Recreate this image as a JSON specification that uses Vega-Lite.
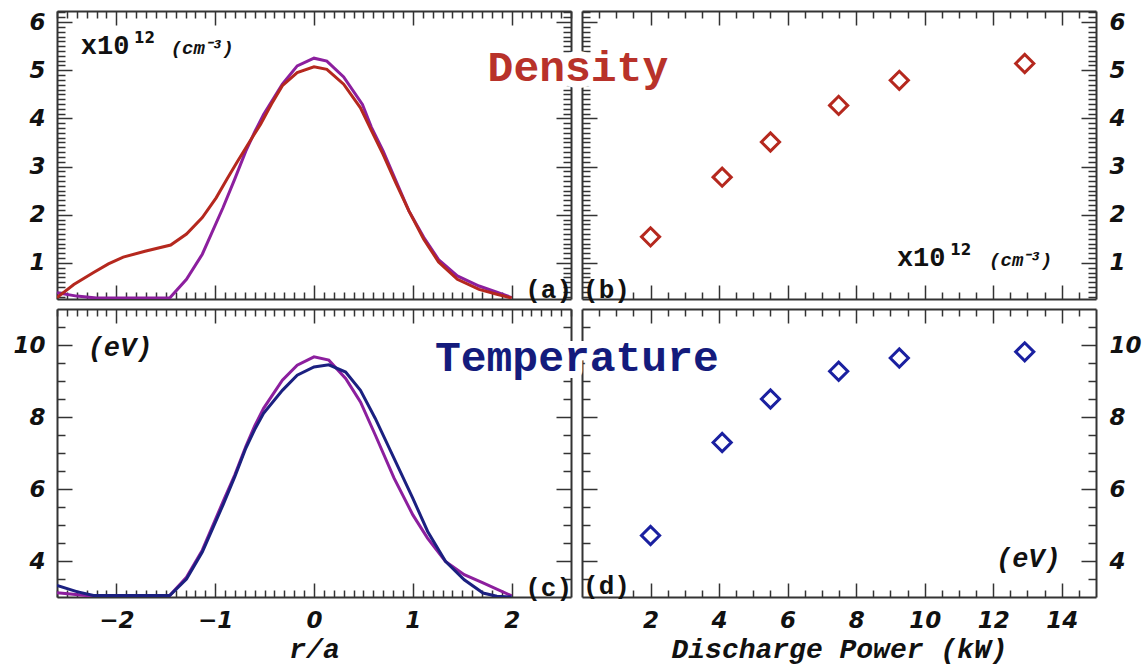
{
  "$schema": "https://vega.github.io/schema/vega-lite/v6.json",
  "background": "white",
  "padding": {"left": 12, "top": 1, "right": 0, "bottom": 6},
  "datasets": {
    "profiles": [
      {"panel": "a", "series": "A", "r": -2.6, "value": 0.38},
      {"panel": "a", "series": "A", "r": -2.4, "value": 0.31},
      {"panel": "a", "series": "A", "r": -2.2, "value": 0.27},
      {"panel": "a", "series": "A", "r": -1.46, "value": 0.27},
      {"panel": "a", "series": "A", "r": -1.29, "value": 0.66},
      {"panel": "a", "series": "A", "r": -1.13, "value": 1.18},
      {"panel": "a", "series": "A", "r": -0.92, "value": 2.15},
      {"panel": "a", "series": "A", "r": -0.8, "value": 2.75},
      {"panel": "a", "series": "A", "r": -0.69, "value": 3.32},
      {"panel": "a", "series": "A", "r": -0.6, "value": 3.72},
      {"panel": "a", "series": "A", "r": -0.51, "value": 4.08},
      {"panel": "a", "series": "A", "r": -0.32, "value": 4.71},
      {"panel": "a", "series": "A", "r": -0.17, "value": 5.09},
      {"panel": "a", "series": "A", "r": 0, "value": 5.25},
      {"panel": "a", "series": "A", "r": 0.13, "value": 5.19},
      {"panel": "a", "series": "A", "r": 0.3, "value": 4.86},
      {"panel": "a", "series": "A", "r": 0.49, "value": 4.29},
      {"panel": "a", "series": "A", "r": 0.58, "value": 3.82},
      {"panel": "a", "series": "A", "r": 0.7, "value": 3.32},
      {"panel": "a", "series": "A", "r": 0.83, "value": 2.7},
      {"panel": "a", "series": "A", "r": 0.96, "value": 2.08},
      {"panel": "a", "series": "A", "r": 1.11, "value": 1.53},
      {"panel": "a", "series": "A", "r": 1.26, "value": 1.07},
      {"panel": "a", "series": "A", "r": 1.45, "value": 0.73},
      {"panel": "a", "series": "A", "r": 1.67, "value": 0.52},
      {"panel": "a", "series": "A", "r": 1.85, "value": 0.39},
      {"panel": "a", "series": "A", "r": 2.0, "value": 0.28},
      {"panel": "a", "series": "B", "r": -2.6, "value": 0.28},
      {"panel": "a", "series": "B", "r": -2.43, "value": 0.55},
      {"panel": "a", "series": "B", "r": -2.23, "value": 0.8},
      {"panel": "a", "series": "B", "r": -2.08, "value": 0.98},
      {"panel": "a", "series": "B", "r": -1.93, "value": 1.12},
      {"panel": "a", "series": "B", "r": -1.71, "value": 1.24},
      {"panel": "a", "series": "B", "r": -1.45, "value": 1.37},
      {"panel": "a", "series": "B", "r": -1.29, "value": 1.6},
      {"panel": "a", "series": "B", "r": -1.13, "value": 1.94},
      {"panel": "a", "series": "B", "r": -0.99, "value": 2.35},
      {"panel": "a", "series": "B", "r": -0.88, "value": 2.74},
      {"panel": "a", "series": "B", "r": -0.77, "value": 3.12},
      {"panel": "a", "series": "B", "r": -0.65, "value": 3.52},
      {"panel": "a", "series": "B", "r": -0.54, "value": 3.88},
      {"panel": "a", "series": "B", "r": -0.43, "value": 4.3},
      {"panel": "a", "series": "B", "r": -0.32, "value": 4.68},
      {"panel": "a", "series": "B", "r": -0.17, "value": 4.95},
      {"panel": "a", "series": "B", "r": 0, "value": 5.07},
      {"panel": "a", "series": "B", "r": 0.13, "value": 5.02},
      {"panel": "a", "series": "B", "r": 0.3, "value": 4.71},
      {"panel": "a", "series": "B", "r": 0.47, "value": 4.22},
      {"panel": "a", "series": "B", "r": 0.58, "value": 3.75},
      {"panel": "a", "series": "B", "r": 0.7, "value": 3.25},
      {"panel": "a", "series": "B", "r": 0.83, "value": 2.65},
      {"panel": "a", "series": "B", "r": 0.96, "value": 2.08},
      {"panel": "a", "series": "B", "r": 1.11, "value": 1.49},
      {"panel": "a", "series": "B", "r": 1.26, "value": 1.02},
      {"panel": "a", "series": "B", "r": 1.45, "value": 0.66},
      {"panel": "a", "series": "B", "r": 1.67, "value": 0.45},
      {"panel": "a", "series": "B", "r": 1.85, "value": 0.35},
      {"panel": "a", "series": "B", "r": 2.0, "value": 0.27},
      {"panel": "c", "series": "A", "r": -2.6, "value": 3.12},
      {"panel": "c", "series": "A", "r": -2.3, "value": 3.04},
      {"panel": "c", "series": "A", "r": -1.46, "value": 3.04},
      {"panel": "c", "series": "A", "r": -1.29, "value": 3.55},
      {"panel": "c", "series": "A", "r": -1.13, "value": 4.3},
      {"panel": "c", "series": "A", "r": -0.92, "value": 5.65},
      {"panel": "c", "series": "A", "r": -0.8, "value": 6.4},
      {"panel": "c", "series": "A", "r": -0.69, "value": 7.18},
      {"panel": "c", "series": "A", "r": -0.6, "value": 7.75},
      {"panel": "c", "series": "A", "r": -0.51, "value": 8.24},
      {"panel": "c", "series": "A", "r": -0.32, "value": 9.02},
      {"panel": "c", "series": "A", "r": -0.17, "value": 9.44},
      {"panel": "c", "series": "A", "r": 0, "value": 9.67},
      {"panel": "c", "series": "A", "r": 0.15, "value": 9.58},
      {"panel": "c", "series": "A", "r": 0.32, "value": 9.07},
      {"panel": "c", "series": "A", "r": 0.47, "value": 8.42},
      {"panel": "c", "series": "A", "r": 0.62, "value": 7.5},
      {"panel": "c", "series": "A", "r": 0.81, "value": 6.3},
      {"panel": "c", "series": "A", "r": 1.0, "value": 5.28},
      {"panel": "c", "series": "A", "r": 1.15, "value": 4.63},
      {"panel": "c", "series": "A", "r": 1.33, "value": 3.99},
      {"panel": "c", "series": "A", "r": 1.52, "value": 3.62},
      {"panel": "c", "series": "A", "r": 1.71, "value": 3.39},
      {"panel": "c", "series": "A", "r": 2.0, "value": 3.03},
      {"panel": "c", "series": "B", "r": -2.6, "value": 3.32},
      {"panel": "c", "series": "B", "r": -2.4, "value": 3.15},
      {"panel": "c", "series": "B", "r": -2.23, "value": 3.04},
      {"panel": "c", "series": "B", "r": -1.46, "value": 3.04},
      {"panel": "c", "series": "B", "r": -1.29, "value": 3.5},
      {"panel": "c", "series": "B", "r": -1.13, "value": 4.25},
      {"panel": "c", "series": "B", "r": -0.92, "value": 5.56},
      {"panel": "c", "series": "B", "r": -0.8, "value": 6.35},
      {"panel": "c", "series": "B", "r": -0.69, "value": 7.13},
      {"panel": "c", "series": "B", "r": -0.6, "value": 7.65},
      {"panel": "c", "series": "B", "r": -0.51, "value": 8.1},
      {"panel": "c", "series": "B", "r": -0.32, "value": 8.74},
      {"panel": "c", "series": "B", "r": -0.17, "value": 9.16},
      {"panel": "c", "series": "B", "r": 0, "value": 9.39},
      {"panel": "c", "series": "B", "r": 0.15, "value": 9.45},
      {"panel": "c", "series": "B", "r": 0.32, "value": 9.25},
      {"panel": "c", "series": "B", "r": 0.47, "value": 8.74},
      {"panel": "c", "series": "B", "r": 0.62, "value": 7.96},
      {"panel": "c", "series": "B", "r": 0.81, "value": 6.85},
      {"panel": "c", "series": "B", "r": 1.0, "value": 5.74},
      {"panel": "c", "series": "B", "r": 1.15, "value": 4.82},
      {"panel": "c", "series": "B", "r": 1.33, "value": 3.99},
      {"panel": "c", "series": "B", "r": 1.52, "value": 3.48},
      {"panel": "c", "series": "B", "r": 1.71, "value": 3.11},
      {"panel": "c", "series": "B", "r": 1.85, "value": 3.02},
      {"panel": "c", "series": "B", "r": 2.0, "value": 3.0}
    ],
    "scans": [
      {"panel": "b", "power": 2.0, "value": 1.54},
      {"panel": "b", "power": 4.09, "value": 2.78},
      {"panel": "b", "power": 5.5, "value": 3.51},
      {"panel": "b", "power": 7.49, "value": 4.27},
      {"panel": "b", "power": 9.26, "value": 4.79},
      {"panel": "b", "power": 12.92, "value": 5.14},
      {"panel": "d", "power": 2.0, "value": 4.71},
      {"panel": "d", "power": 4.09, "value": 7.29},
      {"panel": "d", "power": 5.5, "value": 8.5},
      {"panel": "d", "power": 7.49, "value": 9.27},
      {"panel": "d", "power": 9.26, "value": 9.64},
      {"panel": "d", "power": 12.92, "value": 9.81}
    ]
  },
  "columns": 2,
  "spacing": {"row": 10, "column": 11},
  "bounds": "flush",
  "resolve": {"scale": {"color": "independent"}},
  "concat": [
    {
      "width": 514,
      "height": 288,
      "resolve": {"axis": {"x": "independent", "y": "independent"}},
      "layer": [
        {
          "data": {"name": "profiles"},
          "transform": [{"filter": "datum.panel === 'a'"}],
          "mark": {"type": "line", "strokeWidth": 3, "clip": true},
          "encoding": {
            "x": {"field": "r", "type": "quantitative", "scale": {"domain": [-2.6, 2.6], "nice": false, "zero": false},
              "axis": {"orient": "bottom", "title": null, "labels": false,
                "values": [-2.6,-2.5,-2.4,-2.3,-2.2,-2.1,-2,-1.9,-1.8,-1.7,-1.6,-1.5,-1.4,-1.3,-1.2,-1.1,-1,-0.9,-0.8,-0.7,-0.6,-0.5,-0.4,-0.3,-0.2,-0.1,0,0.1,0.2,0.3,0.4,0.5,0.6,0.7,0.8,0.9,1,1.1,1.2,1.3,1.4,1.5,1.6,1.7,1.8,1.9,2],
                "tickSize": {"condition": {"test": "datum.value % 1 === 0", "value": -14}, "value": -7}}},
            "y": {"field": "value", "type": "quantitative", "scale": {"domain": [0.25, 6.23], "nice": false, "zero": false},
              "axis": {"orient": "left", "title": null, "labelPadding": 27,
                "values": [0.3,0.4,0.5,0.6,0.7,0.8,0.9,1,1.1,1.2,1.3,1.4,1.5,1.6,1.7,1.8,1.9,2,2.1,2.2,2.3,2.4,2.5,2.6,2.7,2.8,2.9,3,3.1,3.2,3.3,3.4,3.5,3.6,3.7,3.8,3.9,4,4.1,4.2,4.3,4.4,4.5,4.6,4.7,4.8,4.9,5,5.1,5.2,5.3,5.4,5.5,5.6,5.7,5.8,5.9,6,6.1,6.2],
                "labelExpr": "datum.value % 1 === 0 ? format(datum.value, 'd') : ''",
                "tickSize": {"condition": {"test": "datum.value % 1 === 0", "value": -15}, "value": -8}}},
            "color": {"field": "series", "type": "nominal", "scale": {"domain": ["A", "B"], "range": ["#8c1f9e", "#b5281e"]}, "legend": null}
          }
        },
        {
          "data": {"values": [{}]},
          "mark": {"type": "text", "text": "x10", "font": "Liberation Mono", "fontSize": 27, "fontWeight": "bold", "align": "left", "baseline": "alphabetic", "color": "#111111"},
          "encoding": {
            "x": {"datum": -2.36, "type": "quantitative", "scale": {"domain": [-2.6, 2.6], "nice": false, "zero": false},
              "axis": {"orient": "top", "title": null, "labels": false,
                "values": [-2.6,-2.5,-2.4,-2.3,-2.2,-2.1,-2,-1.9,-1.8,-1.7,-1.6,-1.5,-1.4,-1.3,-1.2,-1.1,-1,-0.9,-0.8,-0.7,-0.6,-0.5,-0.4,-0.3,-0.2,-0.1,0,0.1,0.2,0.3,0.4,0.5,0.6,0.7,0.8,0.9,1,1.1,1.2,1.3,1.4,1.5,1.6,1.7,1.8,1.9,2,2.1,2.2,2.3,2.4,2.5,2.6],
                "tickSize": {"condition": {"test": "datum.value % 1 === 0", "value": -14}, "value": -7}}},
            "y": {"datum": 5.34, "type": "quantitative", "scale": {"domain": [0.25, 6.23], "nice": false, "zero": false},
              "axis": {"orient": "right", "title": null, "labels": false,
                "values": [0.3,0.4,0.5,0.6,0.7,0.8,0.9,1,1.1,1.2,1.3,1.4,1.5,1.6,1.7,1.8,1.9,2,2.1,2.2,2.3,2.4,2.5,2.6,2.7,2.8,2.9,3,3.1,3.2,3.3,3.4,3.5,3.6,3.7,3.8,3.9,4,4.1,4.2,4.3,4.4,4.5,4.6,4.7,4.8,4.9,5,5.1,5.2,5.3,5.4,5.5,5.6,5.7,5.8,5.9,6,6.1,6.2],
                "tickSize": {"condition": {"test": "datum.value % 1 === 0", "value": -15}, "value": -8}}}
          }
        },
        {
          "data": {"values": [{}]},
          "mark": {"type": "text", "text": "12", "font": "DejaVu Sans", "fontSize": 15, "fontWeight": "bold", "align": "left", "baseline": "alphabetic", "color": "#111111"},
          "encoding": {
            "x": {"datum": -1.82, "type": "quantitative", "scale": {"domain": [-2.6, 2.6], "nice": false, "zero": false}, "axis": null},
            "y": {"datum": 5.57, "type": "quantitative", "scale": {"domain": [0.25, 6.23], "nice": false, "zero": false}, "axis": null}
          }
        },
        {
          "data": {"values": [{}]},
          "mark": {"type": "text", "text": "(cm⁻³)", "font": "Liberation Mono", "fontSize": 19, "fontWeight": "bold", "fontStyle": "italic", "align": "left", "baseline": "alphabetic", "color": "#111111"},
          "encoding": {
            "x": {"datum": -1.45, "type": "quantitative", "scale": {"domain": [-2.6, 2.6], "nice": false, "zero": false}, "axis": null},
            "y": {"datum": 5.34, "type": "quantitative", "scale": {"domain": [0.25, 6.23], "nice": false, "zero": false}, "axis": null}
          }
        },
        {
          "data": {"values": [{}]},
          "mark": {"type": "text", "text": "(a)", "font": "Liberation Mono", "fontSize": 26, "fontWeight": "bold", "align": "right", "baseline": "middle", "color": "#111111"},
          "encoding": {
            "x": {"datum": 2.61, "type": "quantitative", "scale": {"domain": [-2.6, 2.6], "nice": false, "zero": false}, "axis": null},
            "y": {"datum": 0.44, "type": "quantitative", "scale": {"domain": [0.25, 6.23], "nice": false, "zero": false}, "axis": null}
          }
        }
      ]
    },
    {
      "width": 514,
      "height": 288,
      "resolve": {"axis": {"x": "independent", "y": "independent"}},
      "layer": [
        {
          "data": {"name": "scans"},
          "transform": [{"filter": "datum.panel === 'b'"}],
          "mark": {"type": "point", "shape": "diamond", "filled": false, "size": 330, "strokeWidth": 3, "color": "#b5281e", "opacity": 1},
          "encoding": {
            "x": {"field": "power", "type": "quantitative", "scale": {"domain": [0, 15], "nice": false, "zero": false},
              "axis": {"orient": "bottom", "title": null, "labels": false,
                "values": [1.5,2,2.5,3,3.5,4,4.5,5,5.5,6,6.5,7,7.5,8,8.5,9,9.5,10,10.5,11,11.5,12,12.5,13,13.5,14,14.5],
                "tickSize": {"condition": {"test": "datum.value % 2 === 0", "value": -14}, "value": -7}}},
            "y": {"field": "value", "type": "quantitative", "scale": {"domain": [0.25, 6.23], "nice": false, "zero": false},
              "axis": {"orient": "left", "title": null, "labels": false,
                "values": [0.3,0.4,0.5,0.6,0.7,0.8,0.9,1,1.1,1.2,1.3,1.4,1.5,1.6,1.7,1.8,1.9,2,2.1,2.2,2.3,2.4,2.5,2.6,2.7,2.8,2.9,3,3.1,3.2,3.3,3.4,3.5,3.6,3.7,3.8,3.9,4,4.1,4.2,4.3,4.4,4.5,4.6,4.7,4.8,4.9,5,5.1,5.2,5.3,5.4,5.5,5.6,5.7,5.8,5.9,6,6.1,6.2],
                "tickSize": {"condition": {"test": "datum.value % 1 === 0", "value": -15}, "value": -8}}}
          }
        },
        {
          "data": {"values": [{}]},
          "mark": {"type": "text", "text": "x10", "font": "Liberation Mono", "fontSize": 27, "fontWeight": "bold", "align": "left", "baseline": "alphabetic", "color": "#111111"},
          "encoding": {
            "x": {"datum": 9.19, "type": "quantitative", "scale": {"domain": [0, 15], "nice": false, "zero": false},
              "axis": {"orient": "top", "title": null, "labels": false,
                "values": [0.5,1,1.5,2,2.5,3,3.5,4,4.5,5,5.5,6,6.5,7,7.5,8,8.5,9,9.5,10,10.5,11,11.5,12,12.5,13,13.5,14,14.5],
                "tickSize": {"condition": {"test": "datum.value % 2 === 0", "value": -14}, "value": -7}}},
            "y": {"datum": 0.94, "type": "quantitative", "scale": {"domain": [0.25, 6.23], "nice": false, "zero": false},
              "axis": {"orient": "right", "title": null, "labelPadding": 28, "labelAlign": "left",
                "values": [0.3,0.4,0.5,0.6,0.7,0.8,0.9,1,1.1,1.2,1.3,1.4,1.5,1.6,1.7,1.8,1.9,2,2.1,2.2,2.3,2.4,2.5,2.6,2.7,2.8,2.9,3,3.1,3.2,3.3,3.4,3.5,3.6,3.7,3.8,3.9,4,4.1,4.2,4.3,4.4,4.5,4.6,4.7,4.8,4.9,5,5.1,5.2,5.3,5.4,5.5,5.6,5.7,5.8,5.9,6,6.1,6.2],
                "labelExpr": "datum.value % 1 === 0 ? format(datum.value, 'd') : ''",
                "tickSize": {"condition": {"test": "datum.value % 1 === 0", "value": -15}, "value": -8}}}
          }
        },
        {
          "data": {"values": [{}]},
          "mark": {"type": "text", "text": "12", "font": "DejaVu Sans", "fontSize": 15, "fontWeight": "bold", "align": "left", "baseline": "alphabetic", "color": "#111111"},
          "encoding": {
            "x": {"datum": 10.75, "type": "quantitative", "scale": {"domain": [0, 15], "nice": false, "zero": false}, "axis": null},
            "y": {"datum": 1.17, "type": "quantitative", "scale": {"domain": [0.25, 6.23], "nice": false, "zero": false}, "axis": null}
          }
        },
        {
          "data": {"values": [{}]},
          "mark": {"type": "text", "text": "(cm⁻³)", "font": "Liberation Mono", "fontSize": 19, "fontWeight": "bold", "fontStyle": "italic", "align": "left", "baseline": "alphabetic", "color": "#111111"},
          "encoding": {
            "x": {"datum": 11.88, "type": "quantitative", "scale": {"domain": [0, 15], "nice": false, "zero": false}, "axis": null},
            "y": {"datum": 0.94, "type": "quantitative", "scale": {"domain": [0.25, 6.23], "nice": false, "zero": false}, "axis": null}
          }
        },
        {
          "data": {"values": [{}]},
          "mark": {"type": "text", "text": "(b)", "font": "Liberation Mono", "fontSize": 26, "fontWeight": "bold", "align": "left", "baseline": "middle", "color": "#111111"},
          "encoding": {
            "x": {"datum": 0.03, "type": "quantitative", "scale": {"domain": [0, 15], "nice": false, "zero": false}, "axis": null},
            "y": {"datum": 0.44, "type": "quantitative", "scale": {"domain": [0.25, 6.23], "nice": false, "zero": false}, "axis": null}
          }
        },
        {
          "data": {"values": [{}]},
          "mark": {"type": "text", "text": "Density", "font": "Liberation Mono", "fontSize": 43, "fontWeight": "bold", "align": "center", "baseline": "alphabetic", "fill": "white", "stroke": "white", "strokeWidth": 14, "strokeJoin": "round"},
          "encoding": {
            "x": {"datum": -0.12, "type": "quantitative", "scale": {"domain": [0, 15], "nice": false, "zero": false}, "axis": null},
            "y": {"datum": 4.78, "type": "quantitative", "scale": {"domain": [0.25, 6.23], "nice": false, "zero": false}, "axis": null}
          }
        },
        {
          "data": {"values": [{}]},
          "mark": {"type": "text", "text": "Density", "font": "Liberation Mono", "fontSize": 43, "fontWeight": "bold", "align": "center", "baseline": "alphabetic", "color": "#b8322a"},
          "encoding": {
            "x": {"datum": -0.12, "type": "quantitative", "scale": {"domain": [0, 15], "nice": false, "zero": false}, "axis": null},
            "y": {"datum": 4.78, "type": "quantitative", "scale": {"domain": [0.25, 6.23], "nice": false, "zero": false}, "axis": null}
          }
        }
      ]
    },
    {
      "width": 514,
      "height": 288,
      "resolve": {"axis": {"x": "independent", "y": "independent"}},
      "layer": [
        {
          "data": {"name": "profiles"},
          "transform": [{"filter": "datum.panel === 'c'"}],
          "mark": {"type": "line", "strokeWidth": 3, "clip": true},
          "encoding": {
            "x": {"field": "r", "type": "quantitative", "scale": {"domain": [-2.6, 2.6], "nice": false, "zero": false},
              "axis": {"orient": "bottom", "title": "r/a", "titlePadding": -4, "labelPadding": 26,
                "values": [-2.6,-2.5,-2.4,-2.3,-2.2,-2.1,-2,-1.9,-1.8,-1.7,-1.6,-1.5,-1.4,-1.3,-1.2,-1.1,-1,-0.9,-0.8,-0.7,-0.6,-0.5,-0.4,-0.3,-0.2,-0.1,0,0.1,0.2,0.3,0.4,0.5,0.6,0.7,0.8,0.9,1,1.1,1.2,1.3,1.4,1.5,1.6,1.7,1.8,1.9,2],
                "labelExpr": "datum.value % 1 === 0 ? format(datum.value, 'd') : ''",
                "tickSize": {"condition": {"test": "datum.value % 1 === 0", "value": -14}, "value": -7}}},
            "y": {"field": "value", "type": "quantitative", "scale": {"domain": [3, 11], "nice": false, "zero": false},
              "axis": {"orient": "left", "title": null, "labelPadding": 27,
                "values": [3.5,4,4.5,5,5.5,6,6.5,7,7.5,8,8.5,9,9.5,10,10.5],
                "labelExpr": "datum.value % 2 === 0 ? format(datum.value, 'd') : ''",
                "tickSize": {"condition": {"test": "datum.value % 2 === 0", "value": -15}, "value": -8}}},
            "color": {"field": "series", "type": "nominal", "scale": {"domain": ["A", "B"], "range": ["#8c1f9e", "#1b2080"]}, "legend": null}
          }
        },
        {
          "data": {"values": [{}]},
          "mark": {"type": "text", "text": "(eV)", "font": "Liberation Mono", "fontSize": 27, "fontWeight": "bold", "fontStyle": "italic", "align": "left", "baseline": "middle", "color": "#111111"},
          "encoding": {
            "x": {"datum": -2.29, "type": "quantitative", "scale": {"domain": [-2.6, 2.6], "nice": false, "zero": false},
              "axis": {"orient": "top", "title": null, "labels": false,
                "values": [-2.6,-2.5,-2.4,-2.3,-2.2,-2.1,-2,-1.9,-1.8,-1.7,-1.6,-1.5,-1.4,-1.3,-1.2,-1.1,-1,-0.9,-0.8,-0.7,-0.6,-0.5,-0.4,-0.3,-0.2,-0.1,0,0.1,0.2,0.3,0.4,0.5,0.6,0.7,0.8,0.9,1,1.1,1.2,1.3,1.4,1.5,1.6,1.7,1.8,1.9,2,2.1,2.2,2.3,2.4,2.5,2.6],
                "tickSize": {"condition": {"test": "datum.value % 1 === 0", "value": -14}, "value": -7}}},
            "y": {"datum": 9.92, "type": "quantitative", "scale": {"domain": [3, 11], "nice": false, "zero": false},
              "axis": {"orient": "right", "title": null, "labels": false,
                "values": [3.5,4,4.5,5,5.5,6,6.5,7,7.5,8,8.5,9,9.5,10,10.5],
                "tickSize": {"condition": {"test": "datum.value % 2 === 0", "value": -15}, "value": -8}}}
          }
        },
        {
          "data": {"values": [{}]},
          "mark": {"type": "text", "text": "(c)", "font": "Liberation Mono", "fontSize": 26, "fontWeight": "bold", "align": "right", "baseline": "middle", "color": "#111111"},
          "encoding": {
            "x": {"datum": 2.61, "type": "quantitative", "scale": {"domain": [-2.6, 2.6], "nice": false, "zero": false}, "axis": null},
            "y": {"datum": 3.26, "type": "quantitative", "scale": {"domain": [3, 11], "nice": false, "zero": false}, "axis": null}
          }
        }
      ]
    },
    {
      "width": 514,
      "height": 288,
      "resolve": {"axis": {"x": "independent", "y": "independent"}},
      "layer": [
        {
          "data": {"name": "scans"},
          "transform": [{"filter": "datum.panel === 'd'"}],
          "mark": {"type": "point", "shape": "diamond", "filled": false, "size": 330, "strokeWidth": 3, "color": "#1a20a0", "opacity": 1},
          "encoding": {
            "x": {"field": "power", "type": "quantitative", "scale": {"domain": [0, 15], "nice": false, "zero": false},
              "axis": {"orient": "bottom", "title": "Discharge Power (kW)", "titlePadding": -4, "labelPadding": 26,
                "values": [1.5,2,2.5,3,3.5,4,4.5,5,5.5,6,6.5,7,7.5,8,8.5,9,9.5,10,10.5,11,11.5,12,12.5,13,13.5,14,14.5],
                "labelExpr": "datum.value % 2 === 0 ? format(datum.value, 'd') : ''",
                "tickSize": {"condition": {"test": "datum.value % 2 === 0", "value": -14}, "value": -7}}},
            "y": {"field": "value", "type": "quantitative", "scale": {"domain": [3, 11], "nice": false, "zero": false},
              "axis": {"orient": "left", "title": null, "labels": false,
                "values": [3.5,4,4.5,5,5.5,6,6.5,7,7.5,8,8.5,9,9.5,10,10.5],
                "tickSize": {"condition": {"test": "datum.value % 2 === 0", "value": -15}, "value": -8}}}
          }
        },
        {
          "data": {"values": [{}]},
          "mark": {"type": "text", "text": "(eV)", "font": "Liberation Mono", "fontSize": 27, "fontWeight": "bold", "fontStyle": "italic", "align": "left", "baseline": "middle", "color": "#111111"},
          "encoding": {
            "x": {"datum": 12.08, "type": "quantitative", "scale": {"domain": [0, 15], "nice": false, "zero": false},
              "axis": {"orient": "top", "title": null, "labels": false,
                "values": [0.5,1,1.5,2,2.5,3,3.5,4,4.5,5,5.5,6,6.5,7,7.5,8,8.5,9,9.5,10,10.5,11,11.5,12,12.5,13,13.5,14,14.5],
                "tickSize": {"condition": {"test": "datum.value % 2 === 0", "value": -14}, "value": -7}}},
            "y": {"datum": 4.06, "type": "quantitative", "scale": {"domain": [3, 11], "nice": false, "zero": false},
              "axis": {"orient": "right", "title": null, "labelPadding": 28, "labelAlign": "left",
                "values": [3.5,4,4.5,5,5.5,6,6.5,7,7.5,8,8.5,9,9.5,10,10.5],
                "labelExpr": "datum.value % 2 === 0 ? format(datum.value, 'd') : ''",
                "tickSize": {"condition": {"test": "datum.value % 2 === 0", "value": -15}, "value": -8}}}
          }
        },
        {
          "data": {"values": [{}]},
          "mark": {"type": "text", "text": "(d)", "font": "Liberation Mono", "fontSize": 26, "fontWeight": "bold", "align": "left", "baseline": "middle", "color": "#111111"},
          "encoding": {
            "x": {"datum": 0.03, "type": "quantitative", "scale": {"domain": [0, 15], "nice": false, "zero": false}, "axis": null},
            "y": {"datum": 3.31, "type": "quantitative", "scale": {"domain": [3, 11], "nice": false, "zero": false}, "axis": null}
          }
        },
        {
          "data": {"values": [{}]},
          "mark": {"type": "text", "text": "Temperature", "font": "Liberation Mono", "fontSize": 43, "fontWeight": "bold", "align": "center", "baseline": "alphabetic", "fill": "white", "stroke": "white", "strokeWidth": 14, "strokeJoin": "round"},
          "encoding": {
            "x": {"datum": -0.15, "type": "quantitative", "scale": {"domain": [0, 15], "nice": false, "zero": false}, "axis": null},
            "y": {"datum": 9.28, "type": "quantitative", "scale": {"domain": [3, 11], "nice": false, "zero": false}, "axis": null}
          }
        },
        {
          "data": {"values": [{}]},
          "mark": {"type": "text", "text": "Temperature", "font": "Liberation Mono", "fontSize": 43, "fontWeight": "bold", "align": "center", "baseline": "alphabetic", "color": "#141b7c"},
          "encoding": {
            "x": {"datum": -0.15, "type": "quantitative", "scale": {"domain": [0, 15], "nice": false, "zero": false}, "axis": null},
            "y": {"datum": 9.28, "type": "quantitative", "scale": {"domain": [3, 11], "nice": false, "zero": false}, "axis": null}
          }
        }
      ]
    }
  ],
  "config": {
    "view": {"stroke": null},
    "axis": {
      "grid": false,
      "domain": true,
      "domainColor": "#333333",
      "domainWidth": 2,
      "tickColor": "#333333",
      "tickWidth": 1.5,
      "labelFont": "DejaVu Sans",
      "labelFontSize": 23,
      "labelFontWeight": "bold",
      "labelFontStyle": "italic",
      "labelColor": "#111111",
      "labelOverlap": false,
      "labelFlush": false,
      "labelBound": false,
      "titleFont": "Liberation Mono",
      "titleFontSize": 28,
      "titleFontWeight": "bold",
      "titleFontStyle": "italic",
      "titleColor": "#111111",
      "zindex": 0
    }
  }
}
